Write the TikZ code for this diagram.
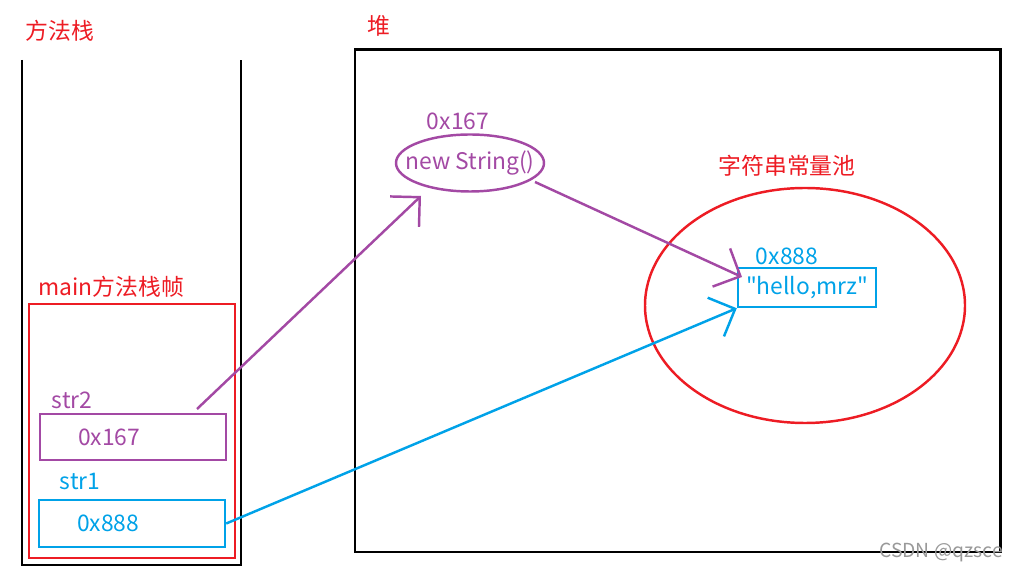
\documentclass[tikz,border=0pt]{standalone}
\usepackage{fontspec}
\newfontfamily\cjk{Noto Sans CJK SC}[Ligatures=TeXOff]
\usetikzlibrary{arrows.meta,shapes.geometric}
\definecolor{paintred}{RGB}{237,28,36}
\definecolor{paintpurple}{RGB}{163,73,164}
\definecolor{paintblue}{RGB}{0,162,232}

\begin{document}
\begin{tikzpicture}[
  font=\cjk\fontsize{13}{15}\selectfont,
  tag/.style={inner sep=0pt},
  frame/.style={draw=black, line width=1.7pt},
  varbox/.style={draw, line width=1.4pt, align=left, inner xsep=0.76cm, text width=2.2cm, minimum height=0.93cm},
  obj/.style={draw=paintpurple, ellipse, line width=1.4pt, inner xsep=-0.27cm, inner ysep=0pt, minimum width=2.96cm, minimum height=1.14cm, text=paintpurple},
  pool/.style={draw=paintred, ellipse, line width=1.4pt, minimum width=6.4cm, minimum height=4.7cm},
  strbox/.style={draw=paintblue, line width=1.4pt, inner sep=0pt, minimum width=2.76cm, minimum height=0.78cm, text=paintblue},
  ref/.style={-{Straight Barb[length=0.42cm, width=0.84cm]}, line width=1.4pt}
]
\useasboundingbox (0,0) rectangle (20.26,-11.5);

% method stack
\draw[frame] (0.44,-1.2) |- (4.82,-11.3) -- (4.82,-1.2);
\node[tag, text=paintred] (stacktitle) at (1.2,-0.62) {方法栈};

\draw[paintred, line width=1.4pt] (0.58,-6.08) rectangle (4.7,-11.16);
\node[tag, text=paintred] (frametitle) at (2.23,-5.74) {main方法栈帧};

\node[tag, text=paintpurple] (str2name) at (1.44,-8.0) {str2};
\node[varbox, draw=paintpurple, text=paintpurple] (str2) at (2.66,-8.74) {0x167};
\node[tag, text=paintblue] (str1name) at (1.6,-9.64) {str1};
\node[varbox, draw=paintblue, text=paintblue] (str1) at (2.64,-10.47) {0x888};

% heap
\draw[frame] (7.1,-1.0) rectangle (20.0,-11.04);
\node[tag, text=paintred] (heaptitle) at (7.58,-0.52) {堆};

\node[tag, text=paintpurple] (objaddr) at (9.16,-2.42) {0x167};
\node[obj] (obj) at (9.4,-3.26) {new String()};

\node[pool] (pool) at (16.1,-6.11) {};
\node[tag, text=paintred] (pooltitle) at (15.74,-3.32) {字符串常量池};
\node[tag, text=paintblue] (hsaddr) at (15.74,-5.12) {0x888};
\node[strbox] (hs) at (16.14,-5.75) {"hello,mrz"};

% references
\coordinate (str2out) at (3.94,-8.18);
\coordinate (objin) at (8.42,-3.92);
\draw[ref, paintpurple] (str2out) -- (objin);
\coordinate (objout) at (10.7,-3.64);
\coordinate (hsin) at (14.84,-5.54);
\draw[ref, paintpurple] (objout) -- (hsin);
\draw[ref, paintblue] (str1.east) -- (hs.south west);

\node[tag, text=black!40, font=\cjk\fontsize{11}{13}\selectfont] (mark) at (18.82,-11.06) {CSDN @qzsce};
\end{tikzpicture}
\end{document}
